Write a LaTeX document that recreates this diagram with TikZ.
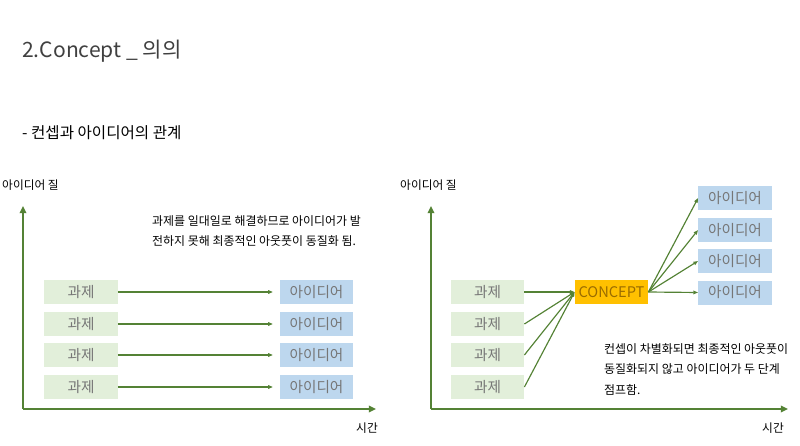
\documentclass[tikz,border=0pt]{standalone}
\usepackage{fontspec}
\setmainfont{Noto Sans CJK KR}
\usetikzlibrary{arrows.meta}
\definecolor{axisgreen}{HTML}{548235}
\definecolor{taskgreen}{HTML}{E2EFDA}
\definecolor{ideablue}{HTML}{BDD7EE}
\definecolor{conceptgold}{HTML}{FFC000}
\definecolor{boxtext}{HTML}{767676}
\definecolor{concepttext}{HTML}{9A6C00}
\definecolor{titlegray}{HTML}{404040}

\begin{document}
\begin{tikzpicture}[x=0.03cm, y=-0.03cm,
		task/.style={fill=taskgreen, text=boxtext, minimum width=2.2cm, minimum height=0.72cm, inner sep=0pt, font=\fontsize{12.5}{14}\selectfont},
		idea/.style={task, fill=ideablue},
		concept/.style={task, fill=conceptgold, text=concepttext},
		axis/.style={axisgreen, line width=2.5pt, -{Triangle[length=6pt, width=5.5pt]}},
		link/.style={axisgreen, line width=1pt, -{Triangle[length=4pt, width=3pt]}},
		label/.style={anchor=west, inner sep=0pt, font=\fontsize{10}{12}\selectfont},
		note/.style={anchor=north west, inner sep=0pt, align=left, font=\fontsize{10.2}{17.5}\selectfont}]
		\useasboundingbox (0, 0) rectangle (800, 446);

		% headings
		\node[anchor=west, inner sep=0pt, text=titlegray, font=\fontsize{18}{20}\selectfont] (title) at (22, 51) {2.Concept \_ 의의};
		\node[anchor=west, inner sep=0pt, font=\fontsize{13.3}{15}\selectfont] (sub) at (22, 133) {- 컨셉과 아이디어의 관계};

		% left: one task, one idea
		\coordinate (lo) at (23, 409);
		\coordinate (ly) at (23, 206);
		\coordinate (lx) at (376, 409);
		\draw[axis] (lo) -- (ly);
		\draw[axis] (lo) -- (lx);
		\node[label] (lyl) at (2, 185) {아이디어 질};
		\node[label] (lxl) at (356, 428) {시간};
		\node[note] (lnote) at (152, 215) {과제를 일대일로 해결하므로 아이디어가 발\\전하지 못해 최종적인 아웃풋이 동질화 됨.};

		\foreach \i/\y in {1/292, 2/324, 3/355, 4/387} {
			\node[task] (lt\i) at (81, \y) {과제};
			\node[idea] (li\i) at (316.5, \y) {아이디어};
			\draw[link] (lt\i.east) -- ([xshift=-0.2cm]li\i.west);
		}

		% right: tasks through a concept
		\coordinate (ro) at (431, 409);
		\coordinate (ry) at (431, 206);
		\coordinate (rx) at (788, 409);
		\draw[axis] (ro) -- (ry);
		\draw[axis] (ro) -- (rx);
		\node[label] (ryl) at (400, 185) {아이디어 질};
		\node[label] (rxl) at (762, 428) {시간};
		\node[note] (rnote) at (604, 343) {컨셉이 차별화되면 최종적인 아웃풋이\\동질화되지 않고 아이디어가 두 단계\\점프함.};

		\node[concept] (cc) at (611.5, 292) {CONCEPT};
		\foreach \i/\y/\v in {1/292/198, 2/324/230, 3/355/261, 4/387/292.5} {
			\node[task] (rt\i) at (487.5, \y) {과제};
			\node[idea] (ri\i) at (735, \v) {아이디어};
			\draw[link] (rt\i.east) -- (cc.west);
			\draw[link] (cc.east) -- (ri\i.west);
		}
	\end{tikzpicture}
\end{document}
